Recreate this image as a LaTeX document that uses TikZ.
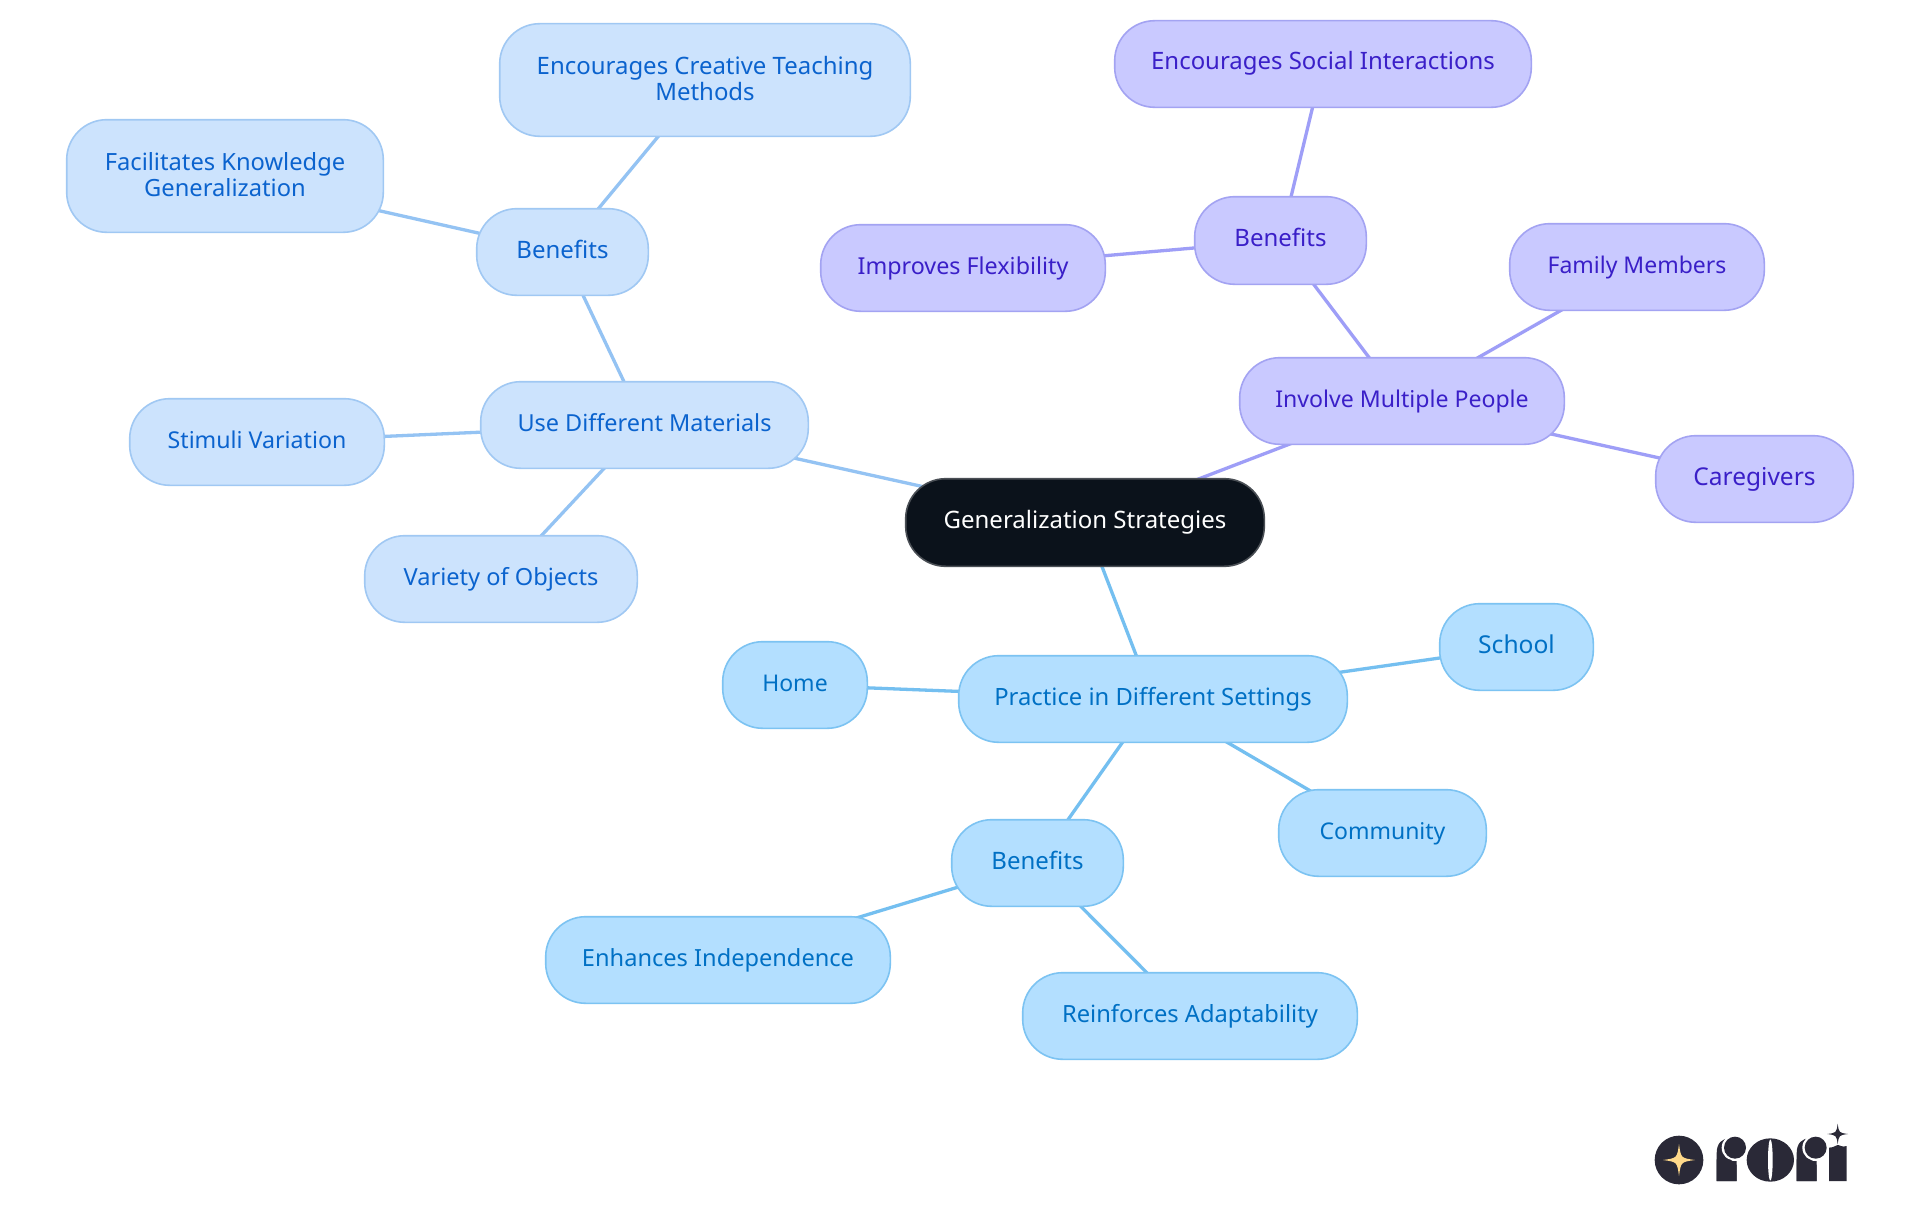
\documentclass[tikz,border=0pt]{standalone}
\usepackage{fontspec}
\setmainfont{Noto Sans}
\usetikzlibrary{backgrounds}
\definecolor{rootfill}{HTML}{0B121B}
\definecolor{rootline}{HTML}{4A4F55}
\definecolor{bluefill}{HTML}{CCE3FD}
\definecolor{blueline}{HTML}{A0C8F3}
\definecolor{bluetext}{HTML}{0B63CE}
\definecolor{bluewire}{HTML}{94C3F3}
\definecolor{purpfill}{HTML}{C9C9FF}
\definecolor{purpline}{HTML}{A3A3F2}
\definecolor{purptext}{HTML}{3A1FC8}
\definecolor{purpwire}{HTML}{9E9EF7}
\definecolor{skyfill}{HTML}{B3DFFF}
\definecolor{skyline}{HTML}{7CC3F2}
\definecolor{skytext}{HTML}{0070C4}
\definecolor{skywire}{HTML}{74BFF0}
\definecolor{logodark}{HTML}{2A2937}
\definecolor{logostar}{HTML}{FFD98A}
\tikzset{
  sz/.style={font=\fontsize{#1}{26}\selectfont},
  mm/.style={rectangle,rounded corners=40pt,draw,line width=1.6pt,inner sep=0pt,align=center,text height=18pt,text depth=6pt,sz=24},
  rootbox/.style={mm,fill=rootfill,draw=rootline,text=white},
  bluebox/.style={mm,fill=bluefill,draw=blueline,text=bluetext},
  purpbox/.style={mm,fill=purpfill,draw=purpline,text=purptext},
  skybox/.style={mm,fill=skyfill,draw=skyline,text=skytext},
  twoline/.style={bluebox,text height=46pt,text depth=6pt},
  wire/.style={line width=3.3pt},
}
\newcommand{\mmnode}[7]{%
  \pgfmathsetmacro{\cxx}{(#2+#4)/2}\pgfmathsetmacro{\cyy}{(#3+#5)/2}%
  \pgfmathsetmacro{\ww}{#4-#2-1.4}\pgfmathsetmacro{\hh}{#5-#3-1.4}%
  \node[#6,minimum width=\ww pt,minimum height=\hh pt] (#1) at (\cxx,\cyy) {#7};}
\newcommand{\fourstar}[4]{% cx cy r colour
  \fill[#4] (#1,#2-#3) .. controls (#1+#3*0.12,#2-#3*0.12) .. (#1+#3,#2)
     .. controls (#1+#3*0.12,#2+#3*0.12) .. (#1,#2+#3)
     .. controls (#1-#3*0.12,#2+#3*0.12) .. (#1-#3,#2)
     .. controls (#1-#3*0.12,#2-#3*0.12) .. cycle;}
\begin{document}
\begin{tikzpicture}[x=1pt,y=-1pt]
\useasboundingbox (0,0) rectangle (1920,1215);
\mmnode{root}{905}{478}{1265}{567}{rootbox}{Generalization Strategies}
\mmnode{use}{480}{381}{809}{469}{bluebox,sz=23.45}{Use Different Materials}
\mmnode{bl}{476}{208}{649}{296}{bluebox}{Benefits}
\mmnode{creative}{499}{23}{911}{137}{twoline,sz=23.96}{Encourages Creative Teaching\\Methods}
\mmnode{facil}{66}{119}{384}{233}{twoline,sz=23.7}{Facilitates Knowledge\\Generalization}
\mmnode{stimuli}{129}{398}{385}{486}{bluebox,sz=23.16}{Stimuli Variation}
\mmnode{variety}{364}{535}{638}{623}{bluebox,sz=23.6}{Variety of Objects}
\mmnode{involve}{1239}{357}{1565}{445}{purpbox,sz=23.1}{Involve Multiple People}
\mmnode{br}{1194}{196}{1367}{285}{purpbox}{Benefits}
\mmnode{social}{1114}{20}{1532}{108}{purpbox,sz=23.94}{Encourages Social Interactions}
\mmnode{flex}{820}{224}{1106}{312}{purpbox,sz=23.3}{Improves Flexibility}
\mmnode{family}{1509}{223}{1765}{311}{purpbox,sz=23}{Family Members}
\mmnode{care}{1655}{435}{1854}{523}{purpbox,sz=24.5}{Caregivers}
\mmnode{practice}{958}{655}{1348}{743}{skybox,sz=23.8}{Practice in Different Settings}
\mmnode{home}{722}{641}{868}{729}{skybox,sz=23}{Home}
\mmnode{school}{1439}{603}{1594}{691}{skybox,sz=24.6}{School}
\mmnode{comm}{1278}{789}{1487}{877}{skybox,sz=23}{Community}
\mmnode{bb}{951}{819}{1124}{907}{skybox}{Benefits}
\mmnode{indep}{545}{916}{891}{1004}{skybox,sz=23.6}{Enhances Independence}
\mmnode{adapt}{1022}{972}{1358}{1060}{skybox,sz=23.7}{Reinforces Adaptability}
\begin{pgfonlayer}{background}
\fill[white] (0,0) rectangle (1920,1215);
\draw[wire,bluewire] (root.center)--(use.center);
\draw[wire,bluewire] (use.center)--(bl.center);
\draw[wire,bluewire] (bl.center)--(creative.center);
\draw[wire,bluewire] (bl.center)--(facil.center);
\draw[wire,bluewire] (use.center)--(stimuli.center);
\draw[wire,bluewire] (use.center)--(variety.center);
\draw[wire,purpwire] (root.center)--(involve.center);
\draw[wire,purpwire] (involve.center)--(br.center);
\draw[wire,purpwire] (br.center)--(social.center);
\draw[wire,purpwire] (br.center)--(flex.center);
\draw[wire,purpwire] (involve.center)--(family.center);
\draw[wire,purpwire] (involve.center)--(care.center);
\draw[wire,skywire] (root.center)--(practice.center);
\draw[wire,skywire] (practice.center)--(home.center);
\draw[wire,skywire] (practice.center)--(school.center);
\draw[wire,skywire] (practice.center)--(comm.center);
\draw[wire,skywire] (practice.center)--(bb.center);
\draw[wire,skywire] (bb.center)--(indep.center);
\draw[wire,skywire] (bb.center)--(adapt.center);
\end{pgfonlayer}
% logo
\begin{scope}[shift={(1620,1100)},x=0.33333pt,y=-0.33333pt]
\fill[logodark] (177,180) circle[radius=73];
\fourstar{177}{180}{48}{logostar}
% first r
\fill[logodark] (290,243) -- (290,160) .. controls (290,130) and (305,115) .. (330,115) -- (350,130) -- (350,243) -- cycle;
\fill[white] (345,143) circle[radius=40];
\fill[logodark] (350,243) -- (350,195) -- (330,178) -- (290,178) -- (290,243) -- cycle;
\fill[logodark] (345,143) circle[radius=33];
% o
\fill[logodark] (451,180) ellipse[x radius=71,y radius=65];
\fill[white] (451,180) ellipse[x radius=7,y radius=62];
% second r
\fill[logodark] (530,243) -- (530,160) .. controls (530,130) and (545,115) .. (570,115) -- (590,130) -- (590,243) -- cycle;
\fill[white] (587,143) circle[radius=40];
\fill[logodark] (590,243) -- (590,195) -- (570,178) -- (530,178) -- (530,243) -- cycle;
\fill[logodark] (587,143) circle[radius=33];
% i
\fill[logodark] (627,243) -- (627,143) .. controls (640,143) and (650,135) .. (654,135) .. controls (658,135) and (668,143) .. (680,138) -- (680,243) -- cycle;
\fourstar{653}{102}{31}{logodark}
\end{scope}
\end{tikzpicture}
\end{document}
